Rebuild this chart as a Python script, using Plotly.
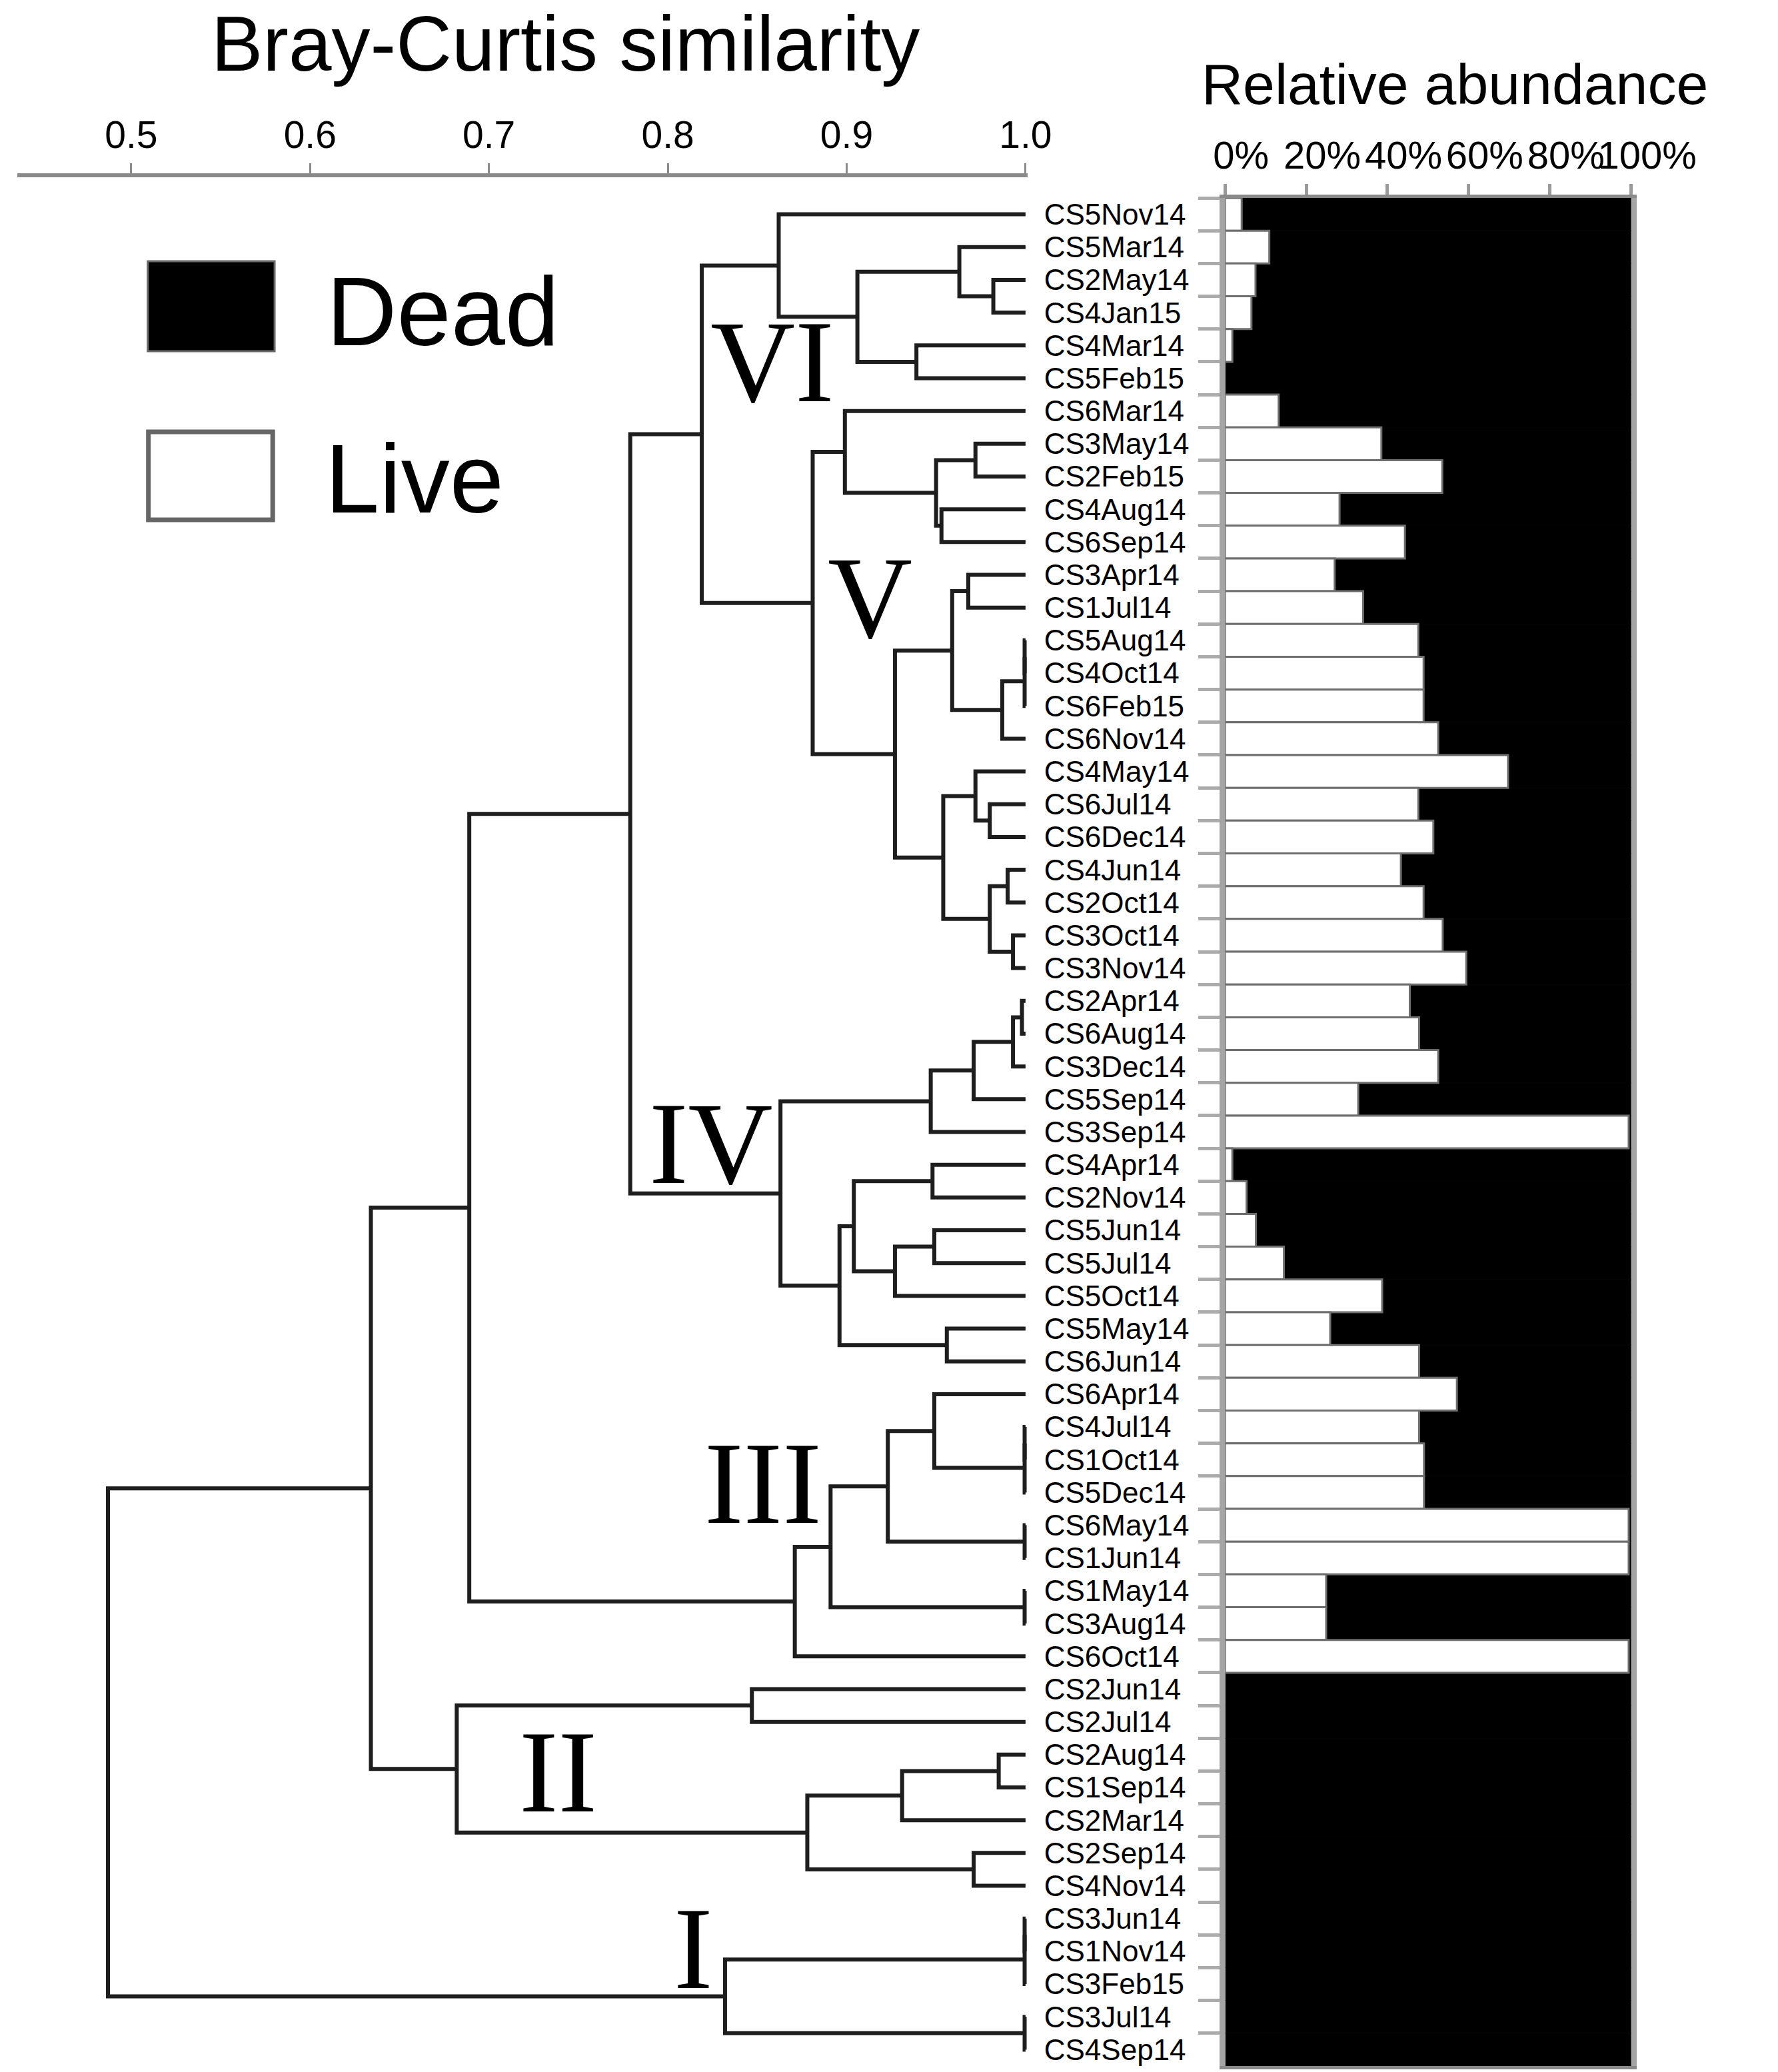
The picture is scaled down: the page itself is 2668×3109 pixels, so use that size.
import plotly.graph_objects as go

# ---------------- data ----------------
leaf_labels = [
    "CS5Nov14", "CS5Mar14", "CS2May14", "CS4Jan15", "CS4Mar14", "CS5Feb15",
    "CS6Mar14", "CS3May14", "CS2Feb15", "CS4Aug14", "CS6Sep14", "CS3Apr14",
    "CS1Jul14", "CS5Aug14", "CS4Oct14", "CS6Feb15", "CS6Nov14", "CS4May14",
    "CS6Jul14", "CS6Dec14", "CS4Jun14", "CS2Oct14", "CS3Oct14", "CS3Nov14",
    "CS2Apr14", "CS6Aug14", "CS3Dec14", "CS5Sep14", "CS3Sep14", "CS4Apr14",
    "CS2Nov14", "CS5Jun14", "CS5Jul14", "CS5Oct14", "CS5May14", "CS6Jun14",
    "CS6Apr14", "CS4Jul14", "CS1Oct14", "CS5Dec14", "CS6May14", "CS1Jun14",
    "CS1May14", "CS3Aug14", "CS6Oct14", "CS2Jun14", "CS2Jul14", "CS2Aug14",
    "CS1Sep14", "CS2Mar14", "CS2Sep14", "CS4Nov14", "CS3Jun14", "CS1Nov14",
    "CS3Feb15", "CS3Jul14", "CS4Sep14",
]

live_pct = [
    4.1, 10.9, 7.5, 6.5, 1.8, 0.0,
    13.2, 38.5, 53.5, 28.2, 44.3, 27.0,
    34.0, 47.6, 48.9, 48.9, 52.5, 69.7,
    47.6, 51.3, 43.3, 48.9, 53.6, 59.4,
    45.5, 47.8, 52.5, 32.8, 99.4, 1.8,
    5.3, 7.6, 14.5, 38.7, 25.9, 47.8,
    57.1, 47.8, 49.0, 49.0, 99.4, 99.4,
    24.9, 24.9, 99.4, 0.0, 0.0, 0.0,
    0.0, 0.0, 0.0, 0.0, 0.0, 0.0,
    0.0, 0.0, 0.0,
]
dead_pct = [round(100 - v, 1) for v in live_pct]

# linkage: node ids 0..56 are leaves, merged nodes are numbered 57, 58, ...
merge_a = [2, 1, 4, 58, 0,
           7, 9, 62, 6, 11, 13, 67, 68, 66, 18, 17, 20, 22, 73, 72, 70, 65, 61,
           24, 80, 81, 82, 29, 31, 85, 84, 34, 87, 83, 90,
           37, 92, 36, 40, 94, 42, 96, 98, 91,
           45, 47, 102, 50, 103, 101, 100,
           52, 108, 55, 109, 107]
merge_b = [3, 57, 5, 59, 60,
           8, 10, 63, 64, 12, 14, 15, 16, 69, 19, 71, 21, 23, 74, 75, 76, 77, 78,
           25, 26, 27, 28, 30, 32, 33, 86, 35, 88, 89, 79,
           38, 39, 93, 41, 95, 43, 97, 44, 99,
           46, 48, 49, 51, 104, 105, 106,
           53, 54, 56, 110, 111]
merge_h = [0.982, 0.963, 0.939, 0.906, 0.862,
           0.972, 0.953, 0.950, 0.899, 0.968, 0.9995, 0.9995, 0.987, 0.959, 0.980,
           0.972, 0.990, 0.993, 0.980, 0.954, 0.927, 0.881, 0.819,
           0.998, 0.993, 0.971, 0.947, 0.948, 0.949, 0.927, 0.904, 0.956, 0.896,
           0.863, 0.779,
           0.9995, 0.9995, 0.949, 0.9995, 0.923, 0.9995, 0.891, 0.871, 0.689,
           0.847, 0.985, 0.931, 0.971, 0.878, 0.682, 0.634,
           0.9995, 0.9995, 0.9995, 0.832, 0.487]

sim_ticks = [0.5, 0.6, 0.7, 0.8, 0.9, 1.0]
sim_tick_text = ["0.5", "0.6", "0.7", "0.8", "0.9", "1.0"]
pct_ticks = [0, 20, 40, 60, 80, 100]
pct_tick_text = ["0%", "20%", "40%", "60%", "80%", "100%"]

cluster_names = ["VI", "V", "IV", "III", "II", "I"]
cluster_xy = [(1193, 542), (1346, 897), (1097, 1715), (1178, 2225), (857, 2658), (1069, 2923)]

# ---------------- geometry helpers (page pixels -> paper) ----------------
W = 2668
H = 3109


def PX(x):
    return x / W


def PY(y):
    return 1 - y / H


SANS = "Liberation Sans, Arial, sans-serif"
SERIF = "Liberation Serif, Times New Roman, serif"
AXGRAY = "#8a8a8a"
LINE = "#1e1e1e"

n = len(leaf_labels)
pos_x = {i: 1.0 for i in range(n)}
pos_y = {i: float(i) for i in range(n)}

fig = go.Figure()

for k, (a, b, h) in enumerate(zip(merge_a, merge_b, merge_h)):
    node = n + k
    fig.add_trace(go.Scatter(
        x=[pos_x[a], h, h, pos_x[b]],
        y=[pos_y[a], pos_y[a], pos_y[b], pos_y[b]],
        mode="lines", line=dict(color=LINE, width=6),
        hoverinfo="skip", showlegend=False, xaxis="x", yaxis="y",
    ))
    pos_x[node] = h
    pos_y[node] = (pos_y[a] + pos_y[b]) / 2

# bars: dead (black) first, live (white) on top
fig.add_trace(go.Bar(
    y=leaf_labels, x=dead_pct, base=live_pct, orientation="h",
    marker=dict(color="black", line=dict(color="black", width=1)),
    xaxis="x2", yaxis="y2", name="Dead", showlegend=False, hoverinfo="skip",
))
fig.add_trace(go.Bar(
    y=leaf_labels, x=live_pct, orientation="h",
    marker=dict(color="white", line=dict(color="#6e6e6e", width=3)),
    xaxis="x2", yaxis="y2", name="Live", showlegend=False, hoverinfo="skip",
))

y_dom = [PY(3100), PY(297)]
x_right_val = 1.0 + 3 / 2806

annotations = [
    dict(text="Bray-Curtis similarity", x=PX(868), y=PY(66), xref="paper", yref="paper",
         showarrow=False, xanchor="center", yanchor="middle",
         font=dict(family=SANS, size=116, color="black")),
    dict(text="Relative abundance", x=PX(2263), y=PY(126), xref="paper", yref="paper",
         showarrow=False, xanchor="center", yanchor="middle",
         font=dict(family=SANS, size=86, color="black")),
    dict(text="Dead", x=PX(676), y=PY(468), xref="paper", yref="paper",
         showarrow=False, xanchor="center", yanchor="middle",
         font=dict(family=SANS, size=146, color="black")),
    dict(text="Live", x=PX(631), y=PY(718), xref="paper", yref="paper",
         showarrow=False, xanchor="center", yanchor="middle",
         font=dict(family=SANS, size=146, color="black")),
]
for name, (cx, cy) in zip(cluster_names, cluster_xy):
    annotations.append(dict(text=name, x=PX(cx), y=PY(cy), xref="paper", yref="paper",
                            showarrow=False, xanchor="center", yanchor="middle",
                            font=dict(family=SERIF, size=176, color="black")))

shapes = [
    dict(type="rect", xref="paper", yref="paper", x0=PX(213), x1=PX(412), y0=PY(527), y1=PY(392),
         fillcolor="black", line=dict(color="#6a6a6a", width=3)),
    dict(type="rect", xref="paper", yref="paper", x0=PX(214), x1=PX(409), y0=PY(780), y1=PY(648),
         fillcolor="white", line=dict(color="#666666", width=7)),
]

fig.update_layout(
    width=W, height=H,
    margin=dict(l=0, r=0, t=0, b=0),
    paper_bgcolor="white", plot_bgcolor="rgba(0,0,0,0)",
    showlegend=False, barmode="overlay", bargap=0,
    annotations=annotations, shapes=shapes,
    xaxis=dict(
        domain=[PX(8), PX(1593)], range=[0.4362, x_right_val],
        side="top", anchor="free", position=PY(263),
        showline=True, linecolor=AXGRAY, linewidth=6,
        ticks="outside", ticklen=15, tickwidth=3, tickcolor=AXGRAY,
        tickvals=sim_ticks, ticktext=sim_tick_text, tickangle=0,
        tickfont=dict(family=SANS, size=57, color="black"),
        showgrid=False, zeroline=False, fixedrange=True,
    ),
    yaxis=dict(
        domain=y_dom, range=[n - 0.5, -0.5], anchor="x", side="right",
        tickvals=list(range(n)), ticktext=leaf_labels, ticks="",
        ticklabelstandoff=24,
        tickfont=dict(family=SANS, size=44, color="black"),
        showline=False, showgrid=False, zeroline=False, fixedrange=True,
    ),
    xaxis2=dict(
        domain=[PX(1903), PX(2540)], range=[0, 100], anchor="y2", side="top",
        showline=True, linecolor=AXGRAY, linewidth=5, mirror=True,
        ticks="outside", ticklen=16, tickwidth=5, tickcolor="#9a9a9a",
        tickvals=pct_ticks, ticktext=pct_tick_text, ticklabelshift=24, tickangle=0,
        tickfont=dict(family=SANS, size=58, color="black"),
        showgrid=False, zeroline=False, fixedrange=True,
    ),
    yaxis2=dict(
        domain=y_dom, anchor="x2", type="category",
        categoryorder="array", categoryarray=leaf_labels, range=[n - 0.5, -0.5],
        showline=True, linecolor="#a4a4a4", linewidth=8, mirror=True,
        ticks="outside", tickson="boundaries", ticklen=32, tickwidth=5, tickcolor="#ababab",
        showticklabels=False, showgrid=False, zeroline=False, fixedrange=True,
    ),
)

fig.write_html(
    "out.html",
    config={"displayModeBar": False, "staticPlot": True},
    post_script=(
        "document.documentElement.style.margin='0';"
        "document.body.style.margin='0';"
        "document.documentElement.style.overflow='hidden';"
        "document.body.style.overflow='hidden';"
    ),
)
